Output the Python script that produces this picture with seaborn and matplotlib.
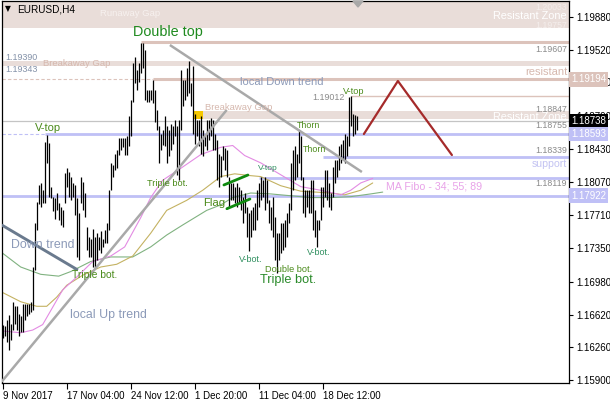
import numpy as np
import pandas as pd
import matplotlib
matplotlib.use("Agg")
import matplotlib.pyplot as plt
import seaborn as sns
from matplotlib.patches import Polygon

# ---------------- data ----------------
bar_high = [
    1.1650, 1.1649, 1.1656, 1.1661, 1.1652, 1.1676, 1.1671, 1.1671, 1.1663, 1.1660,
    1.1674, 1.1674, 1.1674, 1.1674, 1.1676, 1.1714, 1.1762, 1.1785, 1.1804, 1.1806,
    1.1798, 1.1851, 1.1859, 1.1850, 1.1802, 1.1791, 1.1789, 1.1795, 1.1784, 1.1780,
    1.1776, 1.1817, 1.1822, 1.1818, 1.1813, 1.1806, 1.1804, 1.1789, 1.1773, 1.1813,
    1.1807, 1.1795, 1.1758, 1.1747, 1.1745, 1.1756, 1.1747, 1.1751, 1.1747, 1.1753,
    1.1745, 1.1754, 1.1762, 1.1798, 1.1828, 1.1826, 1.1838, 1.1842, 1.1855, 1.1855,
    1.1855, 1.1855, 1.1857, 1.1879, 1.1897, 1.1937, 1.1944, 1.1930, 1.1937, 1.1959,
    1.1959, 1.1952, 1.1908, 1.1908, 1.1908, 1.1919, 1.1908, 1.1886, 1.1868, 1.1860,
    1.1864, 1.1879, 1.1868, 1.1864, 1.1871, 1.1868, 1.1875, 1.1868, 1.1875, 1.1930,
    1.1919, 1.1919, 1.1932, 1.1939, 1.1915, 1.1934, 1.1882, 1.1875, 1.1875, 1.1879,
    1.1864, 1.1860, 1.1875, 1.1875, 1.1877, 1.1875, 1.1860, 1.1853, 1.1838, 1.1835,
    1.1846, 1.1844, 1.1842, 1.1813, 1.1806, 1.1806, 1.1802, 1.1806, 1.1802, 1.1798,
    1.1791, 1.1795, 1.1780, 1.1773, 1.1776, 1.1780, 1.1784, 1.1798, 1.1806, 1.1813,
    1.1809, 1.1813, 1.1809, 1.1787, 1.1780, 1.1791, 1.1769, 1.1751, 1.1751, 1.1762,
    1.1762, 1.1765, 1.1773, 1.1784, 1.1828, 1.1842, 1.1846, 1.1838, 1.1864, 1.1857,
    1.1813, 1.1798, 1.1798, 1.1798, 1.1809, 1.1809, 1.1776, 1.1765, 1.1765, 1.1802,
    1.1802, 1.1820, 1.1820, 1.1806, 1.1795, 1.1824, 1.1831, 1.1831, 1.1846, 1.1849,
    1.1853, 1.1860, 1.1857, 1.1900, 1.19012, 1.1882, 1.1880, 1.1879]

bar_low = [
    1.1636, 1.1638, 1.1632, 1.1623, 1.1634, 1.1645, 1.1652, 1.1645, 1.1638, 1.1643,
    1.1643, 1.1656, 1.1660, 1.1663, 1.1665, 1.1667, 1.1711, 1.1755, 1.1783, 1.1780,
    1.1784, 1.1784, 1.1828, 1.1791, 1.1789, 1.1775, 1.1767, 1.1776, 1.1765, 1.1760,
    1.1758, 1.1784, 1.1802, 1.1791, 1.1787, 1.1791, 1.1771, 1.1725, 1.1722, 1.1784,
    1.1776, 1.1769, 1.1733, 1.1725, 1.1725, 1.1714, 1.1713, 1.1722, 1.1733, 1.1729,
    1.1736, 1.1740, 1.1740, 1.1755, 1.1798, 1.1813, 1.1820, 1.1822, 1.1837, 1.1842,
    1.1845, 1.1837, 1.1837, 1.1846, 1.1857, 1.1895, 1.1915, 1.1908, 1.1917, 1.1926,
    1.1932, 1.1897, 1.1895, 1.1895, 1.1897, 1.1893, 1.1873, 1.1864, 1.1828, 1.1842,
    1.1848, 1.1846, 1.1828, 1.1835, 1.1842, 1.1849, 1.1857, 1.1815, 1.1809, 1.1864,
    1.1890, 1.1897, 1.1901, 1.1904, 1.1890, 1.1860, 1.1849, 1.1857, 1.1846, 1.1838,
    1.1835, 1.1846, 1.1842, 1.1853, 1.1857, 1.1842, 1.1842, 1.1809, 1.1802, 1.1813,
    1.1831, 1.1820, 1.1813, 1.1780, 1.1787, 1.1787, 1.1784, 1.1780, 1.1784, 1.1776,
    1.1762, 1.1773, 1.1747, 1.1731, 1.1747, 1.1755, 1.1755, 1.1765, 1.1780, 1.1787,
    1.1791, 1.1776, 1.1784, 1.1762, 1.1755, 1.1747, 1.1722, 1.1707, 1.1722, 1.1729,
    1.1733, 1.1736, 1.1747, 1.1762, 1.1776, 1.1798, 1.1809, 1.1813, 1.1828, 1.1809,
    1.1773, 1.1769, 1.1780, 1.1773, 1.1773, 1.1755, 1.1747, 1.1736, 1.1755, 1.1765,
    1.1780, 1.1791, 1.1787, 1.1780, 1.1776, 1.1791, 1.1806, 1.1813, 1.1820, 1.1828,
    1.1831, 1.1828, 1.1835, 1.1846, 1.1868, 1.1857, 1.1860, 1.1864]

ma34_idx = [0, 9, 15, 20, 25, 30, 37, 45, 54, 61, 69, 74, 80, 89, 99, 109, 115, 121,
            129, 139, 149, 159, 169, 174, 179, 185]
ma34_val = [1.1644, 1.1642, 1.1645, 1.1651, 1.1670, 1.1689, 1.1703, 1.1720, 1.1726,
            1.1736, 1.1768, 1.1790, 1.1809, 1.1822, 1.1837, 1.1845, 1.1847, 1.1836,
            1.1828, 1.1815, 1.1802, 1.1798, 1.1793, 1.1798, 1.1806, 1.1811]
ma55_idx = [0, 9, 17, 22, 27, 32, 40, 49, 57, 65, 74, 82, 92, 100, 109, 116, 124, 129,
            139, 149, 164, 171, 179, 185]
ma55_val = [1.1686, 1.1676, 1.1671, 1.1671, 1.1681, 1.1694, 1.1705, 1.1714, 1.1717,
            1.1726, 1.1751, 1.1776, 1.1787, 1.1798, 1.1813, 1.1816, 1.1814, 1.1813,
            1.1803, 1.1797, 1.1795, 1.1793, 1.1798, 1.1806]
ma89_idx = [0, 9, 19, 28, 34, 44, 54, 65, 74, 82, 90, 102, 109, 115, 124, 134, 144,
            154, 164, 174, 184, 190]
ma89_val = [1.1729, 1.1714, 1.1706, 1.1704, 1.1709, 1.1720, 1.1725, 1.1725, 1.1736,
            1.1749, 1.1760, 1.1776, 1.1782, 1.1790, 1.1795, 1.1794, 1.1792, 1.1790,
            1.1790, 1.1791, 1.1794, 1.1796]

# drawn objects (bar index, price)
up_trend_x, up_trend_y = [-0.5, 112.0], [1.15885, 1.18859]
local_down_x, local_down_y = [83.6, 179.6], [1.19570, 1.18180]
down_trend_x, down_trend_y = [-0.5, 37.6], [1.17600, 1.17107]
zigzag_x, zigzag_y = [180.6, 197.6, 224.6], [1.18596, 1.19176, 1.18366]
flag_up_x, flag_up_y = [110.6, 122.6], [1.18038, 1.18147]
flag_lo_x, flag_lo_y = [112.1, 123.6], [1.17778, 1.17884]

runaway_zone = [1.19757, 1.20033]
breakaway_zone = [1.19343, 1.19390]
resist_zone = [1.18755, 1.18847]
level_19607 = 1.19607
level_19194 = 1.19194
level_19012 = 1.19012
current_price = 1.18738
level_18593 = 1.18593
level_18339 = 1.18339
level_18119 = 1.18119
level_17922 = 1.17922

price_ticks = [1.15900, 1.16260, 1.16620, 1.16980, 1.17350, 1.17710, 1.18070,
               1.18430, 1.18790, 1.19160, 1.19520, 1.19880]
date_idx = [0, 32, 64, 96, 128, 160]
date_labels = ["9 Nov 2017", "17 Nov 04:00", "24 Nov 12:00", "1 Dec 20:00",
               "11 Dec 04:00", "18 Dec 12:00"]

# ---------------- figure ----------------
sns.set_theme(style="white")
plt.rcParams["font.family"] = ["Liberation Sans", "DejaVu Sans"]

W, H = 610, 400
fig = plt.figure(figsize=(W / 100, H / 100), dpi=100)
fig.patch.set_facecolor("white")
ax = fig.add_axes([1.7 / W, 1 - 383 / H, (569 - 1.7) / W, (383 - 1) / H])
ax.set_facecolor("white")
XMIN, XMAX = -0.5, 283.15
YMIN, YMAX = 1.158704, 1.200517
ax.set_xlim(XMIN, XMAX)
ax.set_ylim(YMIN, YMAX)

band_col = "#e9ddd9"
pink_line = "#dcc3bb"
blue_line = "#bfc0f6"

# zones
ax.axhspan(runaway_zone[0], YMAX, color=band_col, lw=0, zorder=1)
ax.axhspan(breakaway_zone[0], breakaway_zone[1], color=band_col, lw=0, zorder=1)
ax.fill_between([100, XMAX], resist_zone[0], resist_zone[1], color=band_col, lw=0, zorder=1)
ax.fill_between([95.2, 100], resist_zone[0], resist_zone[1], color="#f5c800", lw=0, zorder=1.2)

# levels
ax.hlines(level_19607, 69, XMAX, color=pink_line, lw=2.2, zorder=1.5)
ax.hlines(level_19194, XMIN, 75, color=pink_line, lw=0.8, ls=(0, (3, 2)), zorder=1.5)
ax.hlines(level_19194, 75, XMAX, color=pink_line, lw=2.2, zorder=1.5)
ax.hlines(level_19012, 174, XMAX, color=pink_line, lw=1.0, zorder=1.5)
ax.hlines(current_price, XMIN, XMAX, color="#c4c4c4", lw=0.9, zorder=1.5)
ax.hlines(level_18593, XMIN, 21, color=blue_line, lw=0.8, ls=(0, (3, 2)), zorder=1.5)
ax.hlines(level_18593, 21, XMAX, color=blue_line, lw=2.0, zorder=1.5)
ax.hlines(level_18339, 160, XMAX, color=blue_line, lw=2.0, zorder=1.5)
ax.hlines(level_18119, 128, XMAX, color=blue_line, lw=2.0, zorder=1.5)
ax.hlines(level_17922, XMIN, XMAX, color=blue_line, lw=2.0, zorder=1.5)

# moving averages
for xi, yi, col in [(ma89_idx, ma89_val, "#80b280"), (ma55_idx, ma55_val, "#c4b262"),
                    (ma34_idx, ma34_val, "#e38be3")]:
    sns.lineplot(x=xi, y=yi, ax=ax, color=col, lw=0.8, estimator=None, sort=False,
                 zorder=2)

# OHLC bars (high-low)
n = min(len(bar_high), len(bar_low))
bars = pd.DataFrame({"i": np.arange(n), "high": bar_high[:n], "low": bar_low[:n]})
ax.vlines(bars["i"], bars["low"], bars["high"], color="black", lw=0.9, zorder=3)

# trend lines
ax.plot(up_trend_x, up_trend_y, color="#a9a9a9", lw=1.8, zorder=4, solid_capstyle="butt")
ax.plot(local_down_x, local_down_y, color="#a9a9a9", lw=1.8, zorder=4, solid_capstyle="butt")
ax.plot(down_trend_x, down_trend_y, color="#6a7a8e", lw=2.1, zorder=4, solid_capstyle="butt")
ax.plot(zigzag_x, zigzag_y, color="#a52a2a", lw=1.6, zorder=4)
ax.plot(flag_up_x, flag_up_y, color="#0f8a0f", lw=2.0, zorder=4)
ax.plot(flag_lo_x, flag_lo_y, color="#0f8a0f", lw=2.0, zorder=4)

# axes styling
for s in ax.spines.values():
    s.set_color("black")
    s.set_linewidth(0.9)
ax.yaxis.tick_right()
ax.set_yticks(price_ticks)
ax.set_yticklabels([f"{v:.5f}" for v in price_ticks])
ax.set_xticks(date_idx)
ax.set_xticklabels(date_labels)
for lab in ax.get_xticklabels():
    lab.set_ha("left")
ax.tick_params(axis="y", which="both", left=False, right=True, direction="out",
               length=3, width=0.8, pad=2, labelsize=7, colors="black")
ax.tick_params(axis="x", which="both", bottom=True, direction="out", length=4,
               width=0.8, pad=2, labelsize=7, colors="black")
ax.set_xlabel("")
ax.set_ylabel("")
ax.grid(False)


def label(x, y, s, size, color, ha="left", **kw):
    fig.text(x / W, 1 - y / H, s, fontsize=size, color=color, ha=ha, va="center", **kw)


gray_blue = "#8c9ab8"
rosy = "#d6b8ae"
num_gray = "#8a8a8a"
grn = "#4a8a1a"

# header
label(4.5, 9, "\u25bc", 5.5, "black", family=["DejaVu Sans"])
label(17, 9, "EURUSD,H4", 7.2, "black")
fig.patches.append(Polygon([(353 / W, 1 - 1 / H), (363 / W, 1 - 1 / H), (358 / W, 1 - 7 / H)],
                           closed=True, transform=fig.transFigure, color="#a8a8a8"))

# zone / level texts
label(100, 13, "Runaway Gap", 6.8, "#f7f1ef")
label(567, 7, "1.20033", 6.3, "#f4eeec", ha="right")
label(567, 16, "Resistant Zone", 7.8, "white", ha="right")
label(567, 25, "1.19757", 6.3, "#f4eeec", ha="right")
label(567, 49, "1.19607", 6.3, num_gray, ha="right")
label(5, 57, "1.19390", 6.4, "#8391a8")
label(5, 69, "1.19343", 6.4, "#8391a8")
label(43, 64, "Breakaway Gap", 6.8, rosy)
label(567, 72, "resistant", 8.0, rosy, ha="right")
label(240, 82, "local Down trend", 8.0, gray_blue)
label(345, 97, "1.19012", 6.4, num_gray, ha="right")
label(205, 107, "Breakaway Gap", 6.8, rosy)
label(567, 109, "1.18847", 6.3, num_gray, ha="right")
label(567, 117, "Resistant Zone", 7.8, "white", ha="right")
label(567, 126, "1.18755", 6.3, num_gray, ha="right")
label(567, 151, "1.18339", 6.3, num_gray, ha="right")
label(567, 164, "support", 7.6, "#c3c3f2", ha="right")
label(567, 183, "1.18119", 6.3, num_gray, ha="right")
label(386, 186, "MA Fibo - 34; 55; 89", 7.7, "#e8a2e8")

# pattern texts
label(168, 32, "Double top", 10.4, "#1f8a1f", ha="center")
label(35, 128, "V-top", 8.0, grn)
label(343, 91, "V-top", 6.6, grn)
label(297, 126, "Thorn", 6.4, grn)
label(303, 150, "Thorn", 6.4, grn)
label(258, 169, "V-top", 6.0, "#2f8f5f")
label(147, 183, "Triple bot.", 6.6, grn)
label(203, 203, "Flag", 8.2, grn)
label(11, 245, "Down trend", 8.9, gray_blue)
label(307, 253, "V-bot.", 6.5, "#2f8f5f")
label(239, 260, "V-bot.", 6.5, "#2f8f5f")
label(265, 269, "Double bot.", 6.6, grn)
label(72, 275, "Triple bot.", 7.4, grn)
label(260, 280, "Triple bot.", 9.2, "#2a8a2a")
label(70, 315, "local Up trend", 8.9, gray_blue)

# axis price boxes
def price_box(y, s, fc):
    fig.text(571 / W, 1 - y / H, s, fontsize=7, color="white", ha="left", va="center",
             bbox=dict(boxstyle="square,pad=0.22", fc=fc, ec="none"), zorder=10)


price_box(79.4, "1.19194", "#dcc3bb")
price_box(121, "1.18738", "black")
price_box(134.3, "1.18593", "#bfc0f6")
price_box(195.6, "1.17922", "#bfc0f6")

fig.savefig("out.png", dpi=100)
